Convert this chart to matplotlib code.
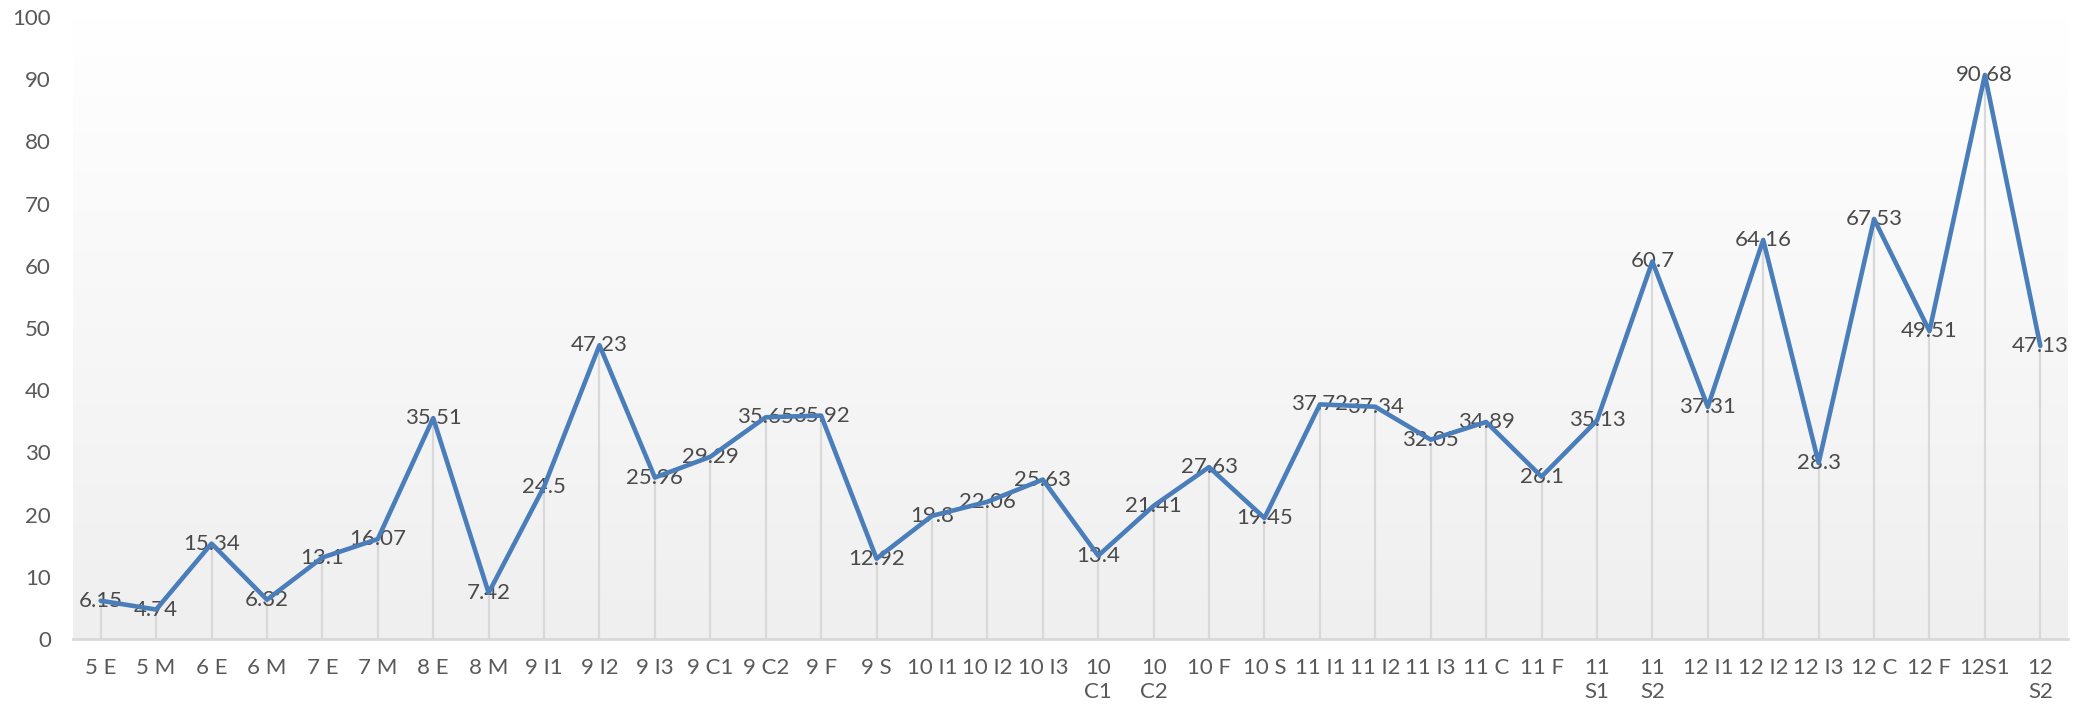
import numpy as np
import matplotlib
matplotlib.use("Agg")
import matplotlib.pyplot as plt
from matplotlib.colors import LinearSegmentedColormap

plt.rcParams['font.family'] = ['Lato', 'DejaVu Sans']

categories = [
    "5 E", "5 M", "6 E", "6 M", "7 E", "7 M", "8 E", "8 M",
    "9 I1", "9 I2", "9 I3", "9 C1", "9 C2", "9 F", "9 S",
    "10 I1", "10 I2", "10 I3", "10\nC1", "10\nC2", "10 F", "10 S",
    "11 I1", "11 I2", "11 I3", "11 C", "11 F", "11\nS1", "11\nS2",
    "12 I1", "12 I2", "12 I3", "12 C", "12 F", "12S1", "12\nS2",
]
values = [
    6.15, 4.74, 15.34, 6.32, 13.1, 16.07, 35.51, 7.42,
    24.5, 47.23, 25.96, 29.29, 35.65, 35.92, 12.92,
    19.8, 22.06, 25.63, 13.4, 21.41, 27.63, 19.45,
    37.72, 37.34, 32.05, 34.89, 26.1, 35.13, 60.7,
    37.31, 64.16, 28.3, 67.53, 49.51, 90.68, 47.13,
]
y_ticks = list(range(0, 101, 10))

W, H = 2094, 715
fig = plt.figure(figsize=(W / 100, H / 100), dpi=100)
fig.patch.set_facecolor("white")

left, right = 73 / W, 2068 / W
bottom, top = (H - 639) / H, (H - 17) / H
ax = fig.add_axes([left, bottom, right - left, top - bottom])

n = len(values)
x = np.arange(n)
ax.set_xlim(-0.5, n - 0.5)
ax.set_ylim(0, 100)

# plot-area gradient: white at the top fading to light grey at the bottom
grad = np.linspace(1, 0, 256).reshape(-1, 1)
cmap = LinearSegmentedColormap.from_list("bg", ["#efefef", "#ffffff"])
ax.imshow(grad, cmap=cmap, aspect="auto", extent=(-0.5, n - 0.5, 0, 100),
          origin="upper", zorder=0, vmin=0, vmax=1)
ax.set_facecolor("white")

# drop lines from each point to the axis
ax.vlines(x, 0, values, color="#d9d9d9", linewidth=1.6, zorder=1)

# data labels centred on the points, under the line
for xi, v in zip(x, values):
    ax.text(xi, v, f"{v:g}", ha="center", va="center", fontsize=16,
            color="#4a4a4a", zorder=2)

ax.plot(x, values, color="#4a7ebb", linewidth=3.3, zorder=3,
        solid_joinstyle="round", solid_capstyle="round")

for s in ["top", "right", "left"]:
    ax.spines[s].set_visible(False)
ax.spines["bottom"].set_color("#d9d9d9")
ax.spines["bottom"].set_linewidth(2)
ax.spines["bottom"].set_zorder(4)

ax.set_yticks(y_ticks)
ax.set_xticks(x)
ax.set_xticklabels(categories, linespacing=1.25)
ax.tick_params(axis="both", length=0, labelsize=16, labelcolor="#595959")
ax.tick_params(axis="y", pad=16)
ax.tick_params(axis="x", pad=14)

fig.savefig("out.png", dpi=100, facecolor="white")
